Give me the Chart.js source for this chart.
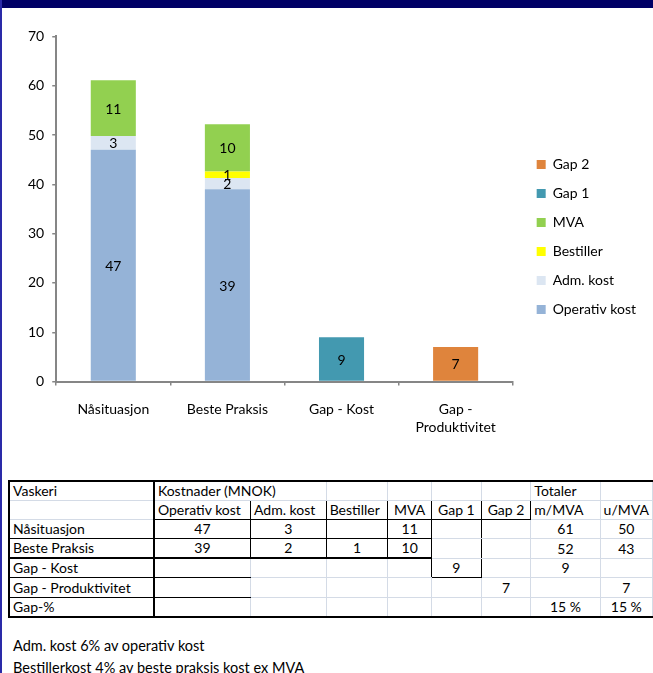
<!DOCTYPE html>
<html>
<head>
<meta charset="utf-8">
<script src="https://cdn.jsdelivr.net/npm/chart.js@4.4.0/dist/chart.umd.min.js"></script>
<style>
  body { margin: 0; background: #fff; font-family: Lato, sans-serif; }
  #page { position: relative; width: 653px; height: 673px; overflow: hidden; }
  #banner { position: absolute; left: 0; top: 0; width: 653px; height: 8px; background: #000066; }
  #edge { position: absolute; left: 0; top: 0; width: 2px; height: 673px; background: #2a2aa8; }
  #chartBox { position: absolute; left: 0; top: 20px; width: 653px; height: 435px; }
  #tbl { position: absolute; left: 8px; top: 480px; border-collapse: collapse; table-layout: fixed; font-size: 14px; color: #000; }
  #tbl td { padding: 0 3px; height: 18.1px; line-height: 1; white-space: nowrap; overflow: visible;
            border-right: 1px solid #d4dbe6; border-bottom: 1px solid #d4dbe6; }
  .note { position: absolute; left: 13px; font-size: 14.5px; color: #000; }
</style>
</head>
<body>
<div id="page">
  <div id="banner"></div>
  <div id="edge"></div>
  <div id="chartBox"><canvas id="gapChart"></canvas></div>
  <table id="tbl"></table>
  <div class="note" style="top:637px">Adm. kost 6% av operativ kost</div>
  <div class="note" style="top:659px">Bestillerkost 4% av beste praksis kost ex MVA</div>
</div>
<script>
// chart values (MNOK)
const categories = ['Nåsituasjon', 'Beste Praksis', 'Gap - Kost', ['Gap -', 'Produktivitet']];
const operativKost = [47, 39, null, null];
const admKost = [2.8, 2.3, null, null];
const bestiller = [null, 1.3, null, null];
const mva = [11.3, 9.6, null, null];
const gap1 = [null, null, 9, null];
const gap2 = [null, null, null, 7];
const yTicks = [0, 10, 20, 30, 40, 50, 60, 70];

// table values
const tableHead1 = ['Vaskeri', 'Kostnader (MNOK)', '', '', '', '', 'Totaler', ''];
const tableHead2 = ['', 'Operativ kost', 'Adm. kost', 'Bestiller', 'MVA', 'Gap 1', 'Gap 2', 'm/MVA', 'u/MVA'];
const tableRows = [
  ['Nåsituasjon', '47', '3', '', '11', '', '', '61', '50'],
  ['Beste Praksis', '39', '2', '1', '10', '', '', '52', '43'],
  ['Gap - Kost', '', '', '', '', '9', '', '9', ''],
  ['Gap - Produktivitet', '', '', '', '', '', '7', '', '7'],
  ['Gap-%', '', '', '', '', '', '', '15 %', '15 %']
];

// build the table
const colW = [146, 97, 76, 62, 44, 50, 50, 70, 48];
const B = '1px solid #000', BT = '2px solid #000';
const rightBlack = { 1: [1, 2, 3, 4, 5, 6], 2: [1, 2, 3, 4, 5], 3: [1, 2, 3, 4, 5], 4: [4, 5] };
const bottomBlack = { 1: [1, 2, 3, 4, 5, 6], 2: [0, 1, 2, 3, 4], 4: [0, 1, 5], 5: [0, 1] };
const tbl = document.getElementById('tbl');
let html = '<colgroup>' + colW.map(w => `<col style="width:${w}px">`).join('') + '</colgroup>';
const allRows = [null, tableHead2, ...tableRows];
allRows.forEach((row, r) => {
  html += '<tr>';
  if (r === 0) {
    const cells = [[tableHead1[0], 1], [tableHead1[1], 2], ['', 1], ['', 1], ['', 1], ['', 1], [tableHead1[6], 1], ['', 1]];
    let c = 0;
    cells.forEach(([txt, span]) => {
      let st = 'border-top:' + BT + ';';
      if (c === 0) st += 'border-left:' + BT + ';border-right:' + BT + ';';
      html += `<td colspan="${span}" style="${st}">${txt}</td>`;
      c += span;
    });
  } else {
    row.forEach((txt, c) => {
      let st = '';
      if (c === 0) st += 'border-left:' + BT + ';border-right:' + BT + ';';
      else if ((rightBlack[r] || []).includes(c)) st += 'border-right:' + B + ';';
      if (r === 6) st += 'border-bottom:' + BT + ';';
      else if (r === 3 && c <= 4) st += 'border-bottom:' + BT + ';';
      else if ((bottomBlack[r] || []).includes(c)) st += 'border-bottom:' + B + ';';
      let align = 'left';
      if (r >= 2 && c > 0) align = 'center';
      if (r === 1 && (c === 4 || c === 5 || c === 6)) align = 'center';
      st += 'text-align:' + align + ';';
      html += `<td style="${st}">${txt}</td>`;
    });
  }
  html += '</tr>';
});
tbl.innerHTML = html;

// value labels inside the bar segments
const segmentLabels = {
  id: 'segmentLabels',
  afterDatasetsDraw(chart) {
    const ctx = chart.ctx;
    ctx.save();
    ctx.font = '14px Lato';
    ctx.fillStyle = '#000';
    ctx.textAlign = 'center';
    ctx.textBaseline = 'middle';
    chart.data.datasets.forEach((ds, i) => {
      chart.getDatasetMeta(i).data.forEach((bar, j) => {
        const v = ds.data[j];
        if (v === null || v === undefined) return;
        ctx.fillText(Math.round(v), bar.x, (bar.y + bar.base) / 2 + 1);
      });
    });
    ctx.restore();
  }
};

// nudge the legend a little to the right of the plot
const legendShift = {
  id: 'legendShift',
  afterLayout(chart) {
    chart.legend.left += 9;
    chart.legend.right += 9;
    chart.legend.top -= 7;
    chart.legend.bottom -= 7;
  }
};

const axisColor = '#868686';

new Chart(document.getElementById('gapChart'), {
  type: 'bar',
  data: {
    labels: categories,
    datasets: [
      { label: 'Operativ kost', data: operativKost, backgroundColor: '#95B3D7' },
      { label: 'Adm. kost', data: admKost, backgroundColor: '#DCE6F2' },
      { label: 'Bestiller', data: bestiller, backgroundColor: '#FFFF00' },
      { label: 'MVA', data: mva, backgroundColor: '#92D050' },
      { label: 'Gap 1', data: gap1, backgroundColor: '#4399B0' },
      { label: 'Gap 2', data: gap2, backgroundColor: '#DF843C' }
    ]
  },
  options: {
    responsive: true,
    maintainAspectRatio: false,
    animation: false,
    categoryPercentage: 1,
    barPercentage: 0.395,
    layout: { padding: { left: 20, top: 16, right: 16, bottom: 3 } },
    plugins: {
      tooltip: { enabled: false },
      legend: {
        position: 'right',
        reverse: true,
        labels: {
          boxWidth: 9,
          boxHeight: 9,
          padding: 15,
          color: '#000',
          font: { family: 'Lato', size: 14 }
        }
      }
    },
    scales: {
      x: {
        stacked: true,
        grid: { drawOnChartArea: false, tickLength: 4, color: axisColor, lineWidth: 1.5 },
        border: { color: axisColor, width: 2 },
        ticks: { color: '#000', padding: 15, maxRotation: 0, font: { family: 'Lato', size: 14, lineHeight: 1.3 } }
      },
      y: {
        stacked: true,
        min: 0,
        max: 70,
        afterBuildTicks(axis) { axis.ticks = yTicks.map(v => ({ value: v })); },
        grid: { drawOnChartArea: false, tickLength: 4, color: axisColor, lineWidth: 1.5 },
        border: { color: axisColor, width: 2 },
        ticks: { color: '#000', padding: 8, font: { family: 'Lato', size: 14 } }
      }
    }
  },
  plugins: [segmentLabels, legendShift]
});
</script>
</body>
</html>
